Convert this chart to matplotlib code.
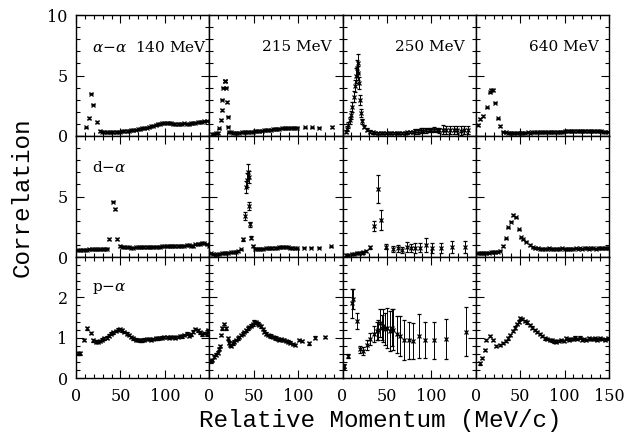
import matplotlib
matplotlib.use("Agg")
import matplotlib.pyplot as plt
from matplotlib.ticker import MultipleLocator

# ---------------- data ----------------
energies = ["140 MeV", "215 MeV", "250 MeV", "640 MeV"]
pairs = [r"$\alpha$$-$$\alpha$", r"d$-$$\alpha$", r"p$-$$\alpha$"]

# alpha-alpha
aa140_x = [11.25, 14.2, 16.9, 19.5, 23.2, 27, 29.5, 32, 34.5, 37, 39.5, 42, 44.5, 47, 49.5, 52, 54.5, 57,
           59.5, 62, 64.5, 67, 69.5, 72, 74.5, 77, 79.5, 82, 84.5, 87, 89.5, 92, 94.5, 97, 99.5, 102,
           104.5, 107, 109.5, 112, 114.5, 117, 119.5, 122, 124.5, 127, 129.5, 132, 134.5, 137, 139.5,
           142, 144.5, 147]
aa140_y = [0.72, 1.5, 3.5, 2.6, 1.15, 0.40, 0.35, 0.32, 0.30, 0.30, 0.30, 0.32, 0.33, 0.35, 0.36, 0.38,
           0.40, 0.42, 0.45, 0.47, 0.50, 0.52, 0.55, 0.58, 0.62, 0.66, 0.70, 0.75, 0.80, 0.85, 0.92, 0.98,
           1.02, 1.05, 1.08, 1.10, 1.08, 1.05, 1.02, 1.00, 0.98, 1.00, 1.02, 1.05, 1.02, 1.00, 1.05, 1.08,
           1.10, 1.12, 1.15, 1.18, 1.22, 1.28]
aa215_x = [3, 5.5, 8, 10, 11.25, 13, 13.9, 14.3, 15.75, 17.2, 18, 18.75, 19.5, 21, 21.5, 22.5, 24, 26.5,
           29, 31.5, 34, 36.5, 39, 41.5, 44, 46.5, 49, 51.5, 54, 56.5, 59, 61.5, 64, 66.5, 69, 71.5, 74,
           76.5, 79, 81.5, 84, 86.5, 89, 91.5, 94, 96.5, 99, 108, 116, 124, 138]
aa215_y = [0.15, 0.2, 0.22, 0.25, 0.63, 1.32, 2.15, 3.0, 4.0, 4.55, 4.55, 4.0, 2.8, 1.6, 0.77, 0.36,
           0.30, 0.28, 0.27, 0.28, 0.28, 0.30, 0.30, 0.32, 0.33, 0.35, 0.36, 0.38, 0.40, 0.42, 0.44, 0.46,
           0.48, 0.50, 0.52, 0.54, 0.56, 0.58, 0.60, 0.62, 0.63, 0.65, 0.66, 0.68, 0.68, 0.70, 0.70,
           0.72, 0.72, 0.70, 0.75]
aa250_x = [3.75, 5.5, 6.75, 8.5, 9.75, 11.25, 12.75, 14.25, 15.2, 16.1, 17.25, 18, 18.75, 19.9, 21, 22.5,
           24.75, 27.4, 31, 34, 37, 40, 43, 46, 49, 52, 55, 58, 61, 64, 67, 70, 73, 76, 79, 82, 85, 88, 91,
           94, 97, 100, 103, 106, 109, 113, 117, 121, 125, 129, 133, 137, 141]
aa250_y = [0.36, 0.6, 0.9, 1.3, 1.74, 2.4, 3.25, 4.1, 5.0, 5.6, 6.0, 5.2, 4.35, 3.0, 1.9, 1.2, 0.77, 0.5,
           0.36, 0.3, 0.28, 0.26, 0.25, 0.25, 0.24, 0.24, 0.25, 0.25, 0.26, 0.26, 0.27, 0.28, 0.3, 0.32,
           0.35, 0.38, 0.4, 0.42, 0.45, 0.48, 0.5, 0.5, 0.52, 0.5, 0.48, 0.52, 0.5, 0.5, 0.48, 0.5, 0.45,
           0.5, 0.48]
aa250_e = [0.15, 0.2, 0.25, 0.3, 0.35, 0.4, 0.45, 0.5, 0.6, 0.7, 0.8, 0.6, 0.5, 0.4, 0.3, 0.2, 0.15, 0.12,
           0.1, 0.1, 0.08, 0.08, 0.08, 0.08, 0.08, 0.08, 0.08, 0.08, 0.08, 0.08, 0.08, 0.08, 0.1, 0.1, 0.1,
           0.2, 0.2, 0.2, 0.2, 0.2, 0.2, 0.2, 0.2, 0.2, 0.2, 0.35, 0.35, 0.35, 0.35, 0.35, 0.35, 0.35, 0.35]
aa640_x = [3, 5, 8.2, 12.75, 15.5, 17.6, 19.5, 21.4, 25.1, 27.8, 30.7, 33.5, 36, 38.5, 41, 43.5, 46, 48.5,
           51, 53.5, 56, 58.5, 61, 63.5, 66, 68.5, 71, 73.5, 76, 78.5, 81, 83.5, 86, 88.5, 91, 93.5, 96,
           98.5, 101, 103.5, 106, 108.5, 111, 113.5, 116, 118.5, 121, 123.5, 126, 128.5, 131, 133.5, 136,
           138.5, 141, 143.5, 146, 148.5]
aa640_y = [0.9, 1.4, 1.65, 2.37, 3.6, 3.8, 3.8, 2.75, 1.46, 0.83, 0.36, 0.3, 0.28, 0.27, 0.27, 0.26, 0.27,
           0.28, 0.27, 0.28, 0.28, 0.29, 0.28, 0.3, 0.3, 0.29, 0.3, 0.31, 0.3, 0.32, 0.31, 0.32, 0.33, 0.32,
           0.34, 0.34, 0.35, 0.36, 0.38, 0.4, 0.42, 0.42, 0.43, 0.42, 0.44, 0.42, 0.42, 0.41, 0.4, 0.41,
           0.4, 0.39, 0.4, 0.38, 0.38, 0.37, 0.37, 0.36]

# d-alpha
da140_x = [2.5, 5, 7.5, 10, 12.5, 15, 17.5, 20, 22.5, 25, 27.5, 30, 32.5, 35, 37.5, 41.25, 44.25, 46.5,
           49.5, 52, 54.5, 57, 59.5, 62, 64.5, 67, 69.5, 72, 74.5, 77, 79.5, 82, 84.5, 87, 89.5, 92, 94.5,
           97, 99.5, 102, 104.5, 107, 109.5, 112, 114.5, 117, 119.5, 122, 124.5, 127, 129.5, 132, 134.5,
           137, 139.5, 142, 144.5, 147, 149.5]
da140_y = [0.55, 0.58, 0.6, 0.6, 0.6, 0.62, 0.62, 0.62, 0.63, 0.63, 0.64, 0.65, 0.66, 0.7, 1.5, 4.57,
           3.97, 1.49, 0.91, 0.85, 0.82, 0.8, 0.8, 0.78, 0.78, 0.8, 0.8, 0.8, 0.82, 0.82, 0.82, 0.84, 0.84,
           0.85, 0.85, 0.86, 0.86, 0.88, 0.88, 0.88, 0.9, 0.9, 0.9, 0.92, 0.92, 0.93, 0.95, 0.95, 0.97,
           1.0, 0.95, 0.92, 1.05, 1.08, 1.1, 1.15, 1.12, 1.05, 0.95]
da215_x = [1.9, 4, 6.5, 9, 11.25, 14, 16.5, 18.75, 21.5, 24.4, 27, 30, 32.5, 35.6, 38.25, 40.1, 41.25,
           42.2, 43.1, 44.25, 45, 46.1, 46.9, 48.75, 51, 53.5, 56, 58.5, 61, 63.5, 66, 68.5, 71, 73.5, 76,
           78.5, 81, 83.5, 86, 88.5, 91, 93.5, 96, 98.5, 107, 114, 124, 137]
da215_y = [0.3, 0.25, 0.2, 0.22, 0.25, 0.3, 0.32, 0.35, 0.36, 0.38, 0.4, 0.44, 0.5, 0.63, 1.46, 3.39,
           5.8, 6.36, 7.05, 6.6, 4.2, 2.7, 1.6, 0.93, 0.7, 0.7, 0.68, 0.7, 0.7, 0.72, 0.72, 0.72, 0.74,
           0.75, 0.78, 0.8, 0.82, 0.85, 0.84, 0.8, 0.76, 0.74, 0.72, 0.72, 0.78, 0.78, 0.77, 0.88]
da215_e = [0.05, 0.05, 0.05, 0.05, 0.05, 0.05, 0.05, 0.05, 0.05, 0.05, 0.05, 0.05, 0.05, 0.05, 0.1, 0.3,
           0.5, 0.6, 0.6, 0.5, 0.35, 0.2, 0.1, 0.08, 0.05, 0.05, 0.05, 0.05, 0.05, 0.05, 0.05, 0.05, 0.05,
           0.05, 0.05, 0.05, 0.05, 0.05, 0.05, 0.05, 0.05, 0.05, 0.05, 0.05, 0.05, 0.05, 0.05, 0.05]
da250_x = [3.75, 6.5, 10.5, 13, 16.1, 18.5, 21.4, 23.6, 26.25, 31.1, 36, 39.75, 43.1, 49.1, 57.4, 62.25,
           66.75, 72.4, 77, 82, 87, 93.75, 101, 110.6, 123, 138]
da250_y = [0.17, 0.2, 0.22, 0.25, 0.3, 0.32, 0.33, 0.38, 0.5, 0.8, 2.56, 5.6, 3.06, 0.85, 0.66, 0.72,
           0.6, 0.8, 0.75, 0.75, 0.77, 1.0, 0.72, 0.72, 0.8, 0.8]
da250_e = [0.05, 0.05, 0.05, 0.08, 0.08, 0.08, 0.1, 0.1, 0.1, 0.15, 0.45, 1.15, 0.85, 0.2, 0.22, 0.3,
           0.25, 0.4, 0.35, 0.4, 0.35, 0.55, 0.4, 0.4, 0.5, 0.5]
da640_x = [2, 4.5, 7, 9.5, 12, 14.5, 17, 19.5, 22, 25, 27.75, 30.75, 33.75, 36.75, 39.4, 42, 45.75, 48.75,
           51.4, 53.6, 57, 60.75, 64.5, 67, 70, 72.5, 75, 77.5, 80, 82.5, 85, 87.5, 90, 92.5, 95, 97.5,
           100, 102.5, 105, 107.5, 110, 112.5, 115, 117.5, 120, 122.5, 125, 127.5, 130, 132.5, 135,
           137.5, 140, 142.5, 145, 147.5, 150]
da640_y = [0.3, 0.32, 0.3, 0.33, 0.35, 0.35, 0.38, 0.4, 0.42, 0.45, 0.52, 0.91, 1.54, 2.45, 2.92, 3.47,
           3.28, 2.28, 1.63, 1.46, 1.27, 0.99, 0.8, 0.75, 0.72, 0.7, 0.7, 0.68, 0.7, 0.72, 0.68, 0.66, 0.7,
           0.68, 0.7, 0.72, 0.68, 0.66, 0.7, 0.7, 0.68, 0.72, 0.7, 0.72, 0.7, 0.74, 0.72, 0.7, 0.74, 0.72,
           0.7, 0.72, 0.75, 0.72, 0.74, 0.72, 0.75]

# p-alpha
pa140_x = [2.6, 4.9, 9, 12.75, 16.5, 19.5, 22, 24.5, 27, 29.5, 32, 34.5, 37, 39.5, 42, 44.5, 47, 49.5, 52,
           54.5, 57, 59.5, 62, 64.5, 67, 69.5, 72, 74.5, 77, 79.5, 82, 84.5, 87, 89.5, 92, 94.5, 97, 99.5,
           102, 104.5, 107, 109.5, 112, 114.5, 117, 119.5, 122, 124.5, 127, 129.5, 132, 134.5, 137,
           139.5, 142, 144.5, 147, 149]
pa140_y = [0.61, 0.61, 0.94, 1.23, 1.12, 0.93, 0.9, 0.9, 0.92, 0.95, 0.98, 1.0, 1.05, 1.1, 1.13, 1.17,
           1.2, 1.21, 1.18, 1.14, 1.1, 1.06, 1.02, 0.98, 0.95, 0.94, 0.93, 0.93, 0.95, 0.96, 0.96, 0.95,
           0.96, 0.98, 0.98, 0.99, 1.0, 1.02, 1.01, 1.0, 1.01, 1.02, 1.0, 1.02, 1.04, 1.03, 1.06, 1.1,
           1.05, 1.08, 1.15, 1.22, 1.18, 1.13, 1.08, 1.12, 1.08, 1.18]
pa215_x = [1.9, 3.5, 5.6, 7.5, 9.4, 11, 12, 13, 14.9, 16.9, 18.75, 20.6, 22, 23.25, 24.5, 26.25, 28, 30,
           32, 33.5, 35.6, 37.5, 39.5, 41.5, 43.1, 45, 47, 49, 50.6, 52.5, 54.5, 56.25, 58, 60, 61.9, 64,
           66, 68, 69.4, 71.5, 73.5, 75, 76.9, 79, 81, 83, 84.4, 86.5, 88.5, 91, 93.75, 96.5, 101, 104,
           112.5, 119.25, 130.5]
pa215_y = [0.41, 0.45, 0.53, 0.58, 0.63, 0.72, 0.8, 1.07, 1.23, 1.34, 1.23, 0.98, 0.88, 0.82, 0.8, 0.86,
           0.9, 0.94, 0.98, 1.02, 1.07, 1.1, 1.14, 1.18, 1.23, 1.27, 1.3, 1.33, 1.4, 1.38, 1.35, 1.32, 1.28,
           1.22, 1.15, 1.1, 1.07, 1.05, 1.03, 1.02, 1.0, 0.98, 0.96, 0.95, 0.96, 0.94, 0.94, 0.92, 0.9,
           0.88, 0.84, 0.82, 0.94, 0.92, 0.86, 1.0, 1.02]
pa250_x = [0.8, 2, 6, 10.5, 12, 16.1, 19.9, 23.6, 27.4, 31.1, 34.9, 38.6, 40.5, 42.4, 44.2, 46.1, 48,
           49.9, 53.6, 55.5, 57.4, 61.1, 64.9, 69.75, 75, 79.9, 86.25, 93, 103.5, 116.25, 139]
pa250_y = [0.27, 0.3, 0.55, 1.85, 1.95, 1.42, 0.71, 0.68, 0.82, 0.96, 1.09, 1.17, 1.2, 1.36, 1.25, 1.3,
           1.22, 1.24, 1.16, 1.25, 1.2, 1.08, 1.04, 0.94, 0.93, 0.92, 1.04, 0.94, 0.93, 0.96, 1.15]
pa250_e = [0.05, 0.05, 0.05, 0.35, 0.25, 0.2, 0.08, 0.1, 0.12, 0.15, 0.2, 0.22, 0.25, 0.35, 0.3, 0.4,
           0.4, 0.5, 0.5, 0.45, 0.5, 0.45, 0.5, 0.5, 0.45, 0.45, 0.55, 0.45, 0.45, 0.5, 0.6]
pa640_x = [4.5, 7, 10.1, 12, 15.75, 19.5, 23.25, 27, 30.75, 33.5, 36.4, 39, 42, 44.5, 46.5, 48.5, 50.25,
           52.5, 55.1, 57.5, 60.75, 63.5, 66.4, 69, 72, 75, 77.6, 80.5, 83.25, 86, 88.5, 90.75, 93.5, 96.4,
           99, 102, 104.5, 107, 109.5, 112, 114.5, 117, 119.5, 122, 124.5, 127, 129.5, 132, 134.5, 137,
           139.5, 142, 145, 148.9]
pa640_y = [0.36, 0.5, 0.69, 0.94, 1.04, 0.94, 0.79, 0.82, 0.87, 0.92, 0.98, 1.06, 1.17, 1.25, 1.34, 1.4,
           1.48, 1.46, 1.42, 1.38, 1.32, 1.25, 1.19, 1.14, 1.09, 1.04, 0.98, 0.96, 0.94, 0.93, 0.91, 0.9,
           0.92, 0.94, 0.92, 0.98, 0.95, 0.96, 0.96, 1.0, 0.97, 1.0, 0.95, 0.97, 0.94, 0.98, 0.96, 0.96,
           0.98, 0.95, 0.98, 0.96, 0.94, 0.98]

panels = [
    [(aa140_x, aa140_y, 0.06), (aa215_x, aa215_y, 0.06), (aa250_x, aa250_y, aa250_e), (aa640_x, aa640_y, 0.06)],
    [(da140_x, da140_y, 0.06), (da215_x, da215_y, da215_e), (da250_x, da250_y, da250_e), (da640_x, da640_y, 0.06)],
    [(pa140_x, pa140_y, 0.03), (pa215_x, pa215_y, 0.03), (pa250_x, pa250_y, pa250_e), (pa640_x, pa640_y, 0.03)],
]
row_ylim = [(0, 10), (0, 10), (0, 3)]
row_yticks = [[0, 5, 10], [0, 5, 10], [0, 1, 2, 3]]
row_ylabels = [["0", "5", "10"], ["0", "5", ""], ["0", "1", "2", ""]]
row_minor = [1, 1, 0.2]
xticks = [0, 50, 100, 150]

# ---------------- figure ----------------
plt.rcParams["mathtext.fontset"] = "dejavuserif"
plt.rcParams["font.family"] = "DejaVu Serif"

W, H = 636, 432
fig = plt.figure(figsize=(W / 100, H / 100), dpi=100)
gs = fig.add_gridspec(3, 4, left=76 / W, right=609 / W, bottom=1 - 378 / H, top=1 - 15 / H,
                      wspace=0, hspace=0)

for r in range(3):
    for c in range(4):
        ax = fig.add_subplot(gs[r, c])
        x, y, e = panels[r][c]
        ax.errorbar(x, y, yerr=e, fmt="x", ms=2.8, mew=0.9, color="black", ecolor="black",
                    elinewidth=0.7, capsize=1.3, capthick=0.7, clip_on=True)
        ax.set_xlim(0, 150)
        ax.set_ylim(*row_ylim[r])
        ax.set_xticks(xticks)
        ax.xaxis.set_minor_locator(MultipleLocator(10))
        ax.set_yticks(row_yticks[r])
        ax.yaxis.set_minor_locator(MultipleLocator(row_minor[r]))
        ax.tick_params(which="both", direction="in", top=True, right=True, width=0.8)
        ax.tick_params(which="major", length=5.5)
        ax.tick_params(which="minor", length=2.8)
        ax.tick_params(axis="y", pad=6, labelsize=11.5)
        ax.tick_params(axis="x", pad=7, labelsize=11.5)
        for s in ax.spines.values():
            s.set_linewidth(1.0)
        if c == 0:
            ax.set_yticklabels(row_ylabels[r])
        else:
            ax.set_yticklabels([])
        if r == 2:
            ax.set_xticklabels(["0", "50", "100", "150" if c == 3 else ""])
        else:
            ax.set_xticklabels([])
        # panel labels
        if r == 0:
            if c == 0:
                ax.text(0.12, 0.735, pairs[0] + "  " + energies[0], transform=ax.transAxes,
                        fontsize=11, ha="left", va="center")
            else:
                ax.text(0.92, 0.735, energies[c], transform=ax.transAxes,
                        fontsize=11, ha="right", va="center")
        elif c == 0:
            ax.text(0.12, 0.74, pairs[r], transform=ax.transAxes, fontsize=11, ha="left", va="center")

fig.text(22 / W, 1 - 197 / H, "Correlation", rotation=90, ha="center", va="center",
         fontsize=17.5, family="Liberation Mono")
fig.text(380 / W, 1 - 420 / H, "Relative Momentum (MeV/c)", ha="center", va="center",
         fontsize=17.5, family="Liberation Mono")

fig.savefig("out.png", dpi=100)
